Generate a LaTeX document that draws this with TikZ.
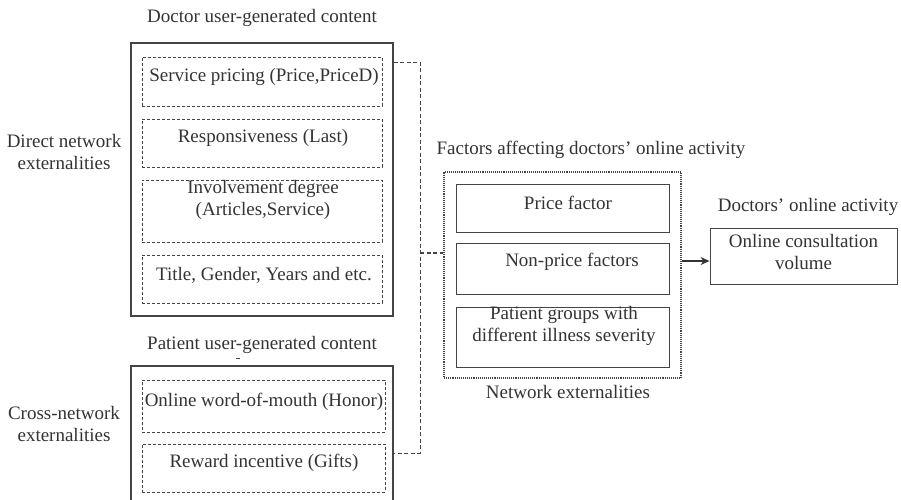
\documentclass[tikz,border=0pt]{standalone}
\usepackage{fontspec}
\setmainfont{Liberation Serif}
\usetikzlibrary{arrows.meta,calc}
\definecolor{ink}{HTML}{333333}
\definecolor{edge}{HTML}{444444}
\tikzset{
  txt/.style={text=ink, font=\fontsize{19}{22.5}\selectfont, inner sep=0pt, align=center},
  outerbox/.style={draw=edge, line width=1.6pt, inner sep=0pt},
  dashbox/.style={draw=edge, line width=0.8pt, dash pattern=on 3pt off 2pt, inner sep=0pt},
  solidbox/.style={draw=edge, line width=0.9pt, inner sep=0pt},
  dotbox/.style={draw=edge, line width=1.1pt, densely dotted, inner sep=0pt},
  link/.style={draw=edge, line width=0.8pt, dash pattern=on 4pt off 2.5pt},
}
\newcommand{\boxat}[6]{% name, style, cx, cy, w, h
  \node[#2, minimum width=#5pt, minimum height=#6pt] (#1) at (#3pt,-#4pt) {};}
\begin{document}
\begin{tikzpicture}
\useasboundingbox (0,0) rectangle (901pt,-499pt);
\clip (0,0) rectangle (901pt,-499pt);

% Doctor user-generated content
\node[txt] (doctitle) at (262pt,-18pt) {Doctor user-generated content};
\boxat{doc}{outerbox}{262}{179.5}{262}{273}
\boxat{d1}{dashbox}{262}{81.5}{240}{49}
\boxat{d2}{dashbox}{262}{143}{240}{48}
\boxat{d3}{dashbox}{262}{211}{240}{62}
\boxat{d4}{dashbox}{262}{279}{240}{48}
\node[txt] (d1t) at (264pt,-77pt) {Service pricing (Price,PriceD)};
\node[txt] (d2t) at (263pt,-138pt) {Responsiveness (Last)};
\node[txt] (d3t) at (263pt,-200pt) {Involvement degree\\(Articles,Service)};
\node[txt] (d4t) at (264pt,-275pt) {Title, Gender, Years and etc.};
\node[txt] (direct) at (64pt,-152pt) {Direct network\\externalities};

% Patient user-generated content
\node[txt] (pattitle) at (262pt,-345pt) {Patient user-generated content};
\draw[edge, line width=0.8pt] (236pt,-358pt) -- (240pt,-358pt);
\boxat{pat}{outerbox}{262}{436}{262}{140}
\boxat{p1}{dashbox}{263.5}{406}{243}{52}
\boxat{p2}{dashbox}{263.5}{468}{243}{48}
\node[txt] (p1t) at (264pt,-402pt) {Online word-of-mouth (Honor)};
\node[txt] (p2t) at (264pt,-463pt) {Reward incentive (Gifts)};
\node[txt] (cross) at (64pt,-424pt) {Cross-network\\externalities};

% Factors affecting doctors' online activity
\node[txt] (nettitle) at (591pt,-150pt) {Factors affecting doctors’ online activity};
\boxat{net}{dotbox}{562.5}{275}{237}{206}
\boxat{n1}{solidbox}{562.5}{208}{213}{48}
\boxat{n2}{solidbox}{562.5}{268.5}{213}{51}
\boxat{n3}{solidbox}{562.5}{337}{213}{60}
\node[txt] (n1t) at (568pt,-203pt) {Price factor};
\node[txt] (n2t) at (572pt,-262pt) {Non-price factors};
\node[txt] (n3t) at (564pt,-326pt) {Patient groups with\\different illness severity};
\node[txt] (netcap) at (568pt,-392pt) {Network externalities};

% Doctors' online activity
\node[txt] (outtitle) at (808pt,-207pt) {Doctors’ online activity};
\boxat{out}{solidbox}{803.5}{256}{187}{56}
\node[txt] (outt) at (803.5pt,-252pt) {Online consultation\\volume};

% Connectors
\coordinate (jt) at (420pt,-62pt);
\coordinate (jm) at (420pt,-253pt);
\coordinate (jb) at (420pt,-453pt);
\coordinate (ar) at (0pt,-261pt);
\draw[link] (doc.east |- jt) -- (jt) -- (jb) -- (pat.east |- jb);
\draw[link, line width=1.6pt] (jm) -- (net.west |- jm);
\draw[draw=ink, line width=1.3pt, -{Stealth[length=9pt,width=8pt]}] (net.east |- ar) -- (out.west |- ar);
\end{tikzpicture}
\end{document}
